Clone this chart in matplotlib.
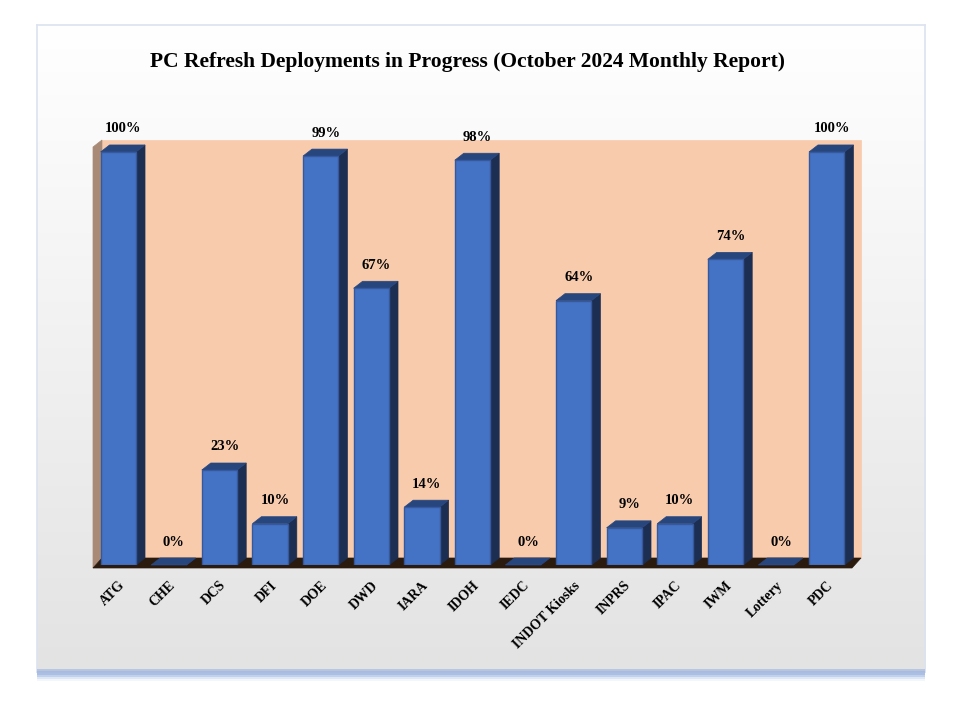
import matplotlib.pyplot as plt
import numpy as np
from matplotlib.patches import Polygon, Rectangle
from matplotlib.transforms import IdentityTransform

agencies = ['ATG', 'CHE', 'DCS', 'DFI', 'DOE', 'DWD', 'IARA', 'IDOH', 'IEDC',
            'INDOT Kiosks', 'INPRS', 'IPAC', 'IWM', 'Lottery', 'PDC']
progress = [100, 0, 23, 10, 99, 67, 14, 98, 0, 64, 9, 10, 74, 0, 100]
title = 'PC Refresh Deployments in Progress (October 2024 Monthly Report)'

plt.rcParams['font.family'] = ['Liberation Serif', 'DejaVu Serif']

W, H = 960, 720
fig = plt.figure(figsize=(9.6, 7.2), dpi=100)
fig.patch.set_facecolor('white')

# chart frame with soft gradient and blue shadow underneath
for i, a in enumerate([0.5, 0.35, 0.2, 0.1]):
    fig.patches.append(Rectangle((37 / W, (48 - 3 - 2 * i) / H), 888 / W, 6 / H,
                                 transform=fig.transFigure, color='#8FAADC',
                                 alpha=a, lw=0, zorder=0))
bg = fig.add_axes([37 / W, 48 / H, 888 / W, 647 / H], zorder=-1)
grad = np.linspace(1.0, 0.89, 256).reshape(-1, 1)
bg.imshow(np.dstack([grad, grad, grad]), aspect='auto', extent=(0, 1, 0, 1))
bg.set_xticks([])
bg.set_yticks([])
for s in bg.spines.values():
    s.set_color('#DCE3EF')
    s.set_linewidth(1.2)

fig.text(0.487, 1 - 62 / H, title, ha='center', va='center',
         fontsize=15.5, fontweight='bold')

# plot area (front plane)
ax = fig.add_axes([93 / W, (H - 565) / H, 759 / W, 418 / H])
ax.set_xlim(-0.5, len(agencies) - 0.5)
ax.set_ylim(0, 101.2)
ax.patch.set_alpha(0)
for s in ax.spines.values():
    s.set_visible(False)
ax.set_yticks([])

dx, dy = 9, 7
x = np.arange(len(agencies))
bw = 0.7

def disp(pts):
    return ax.transData.transform(pts)

def poly(pts, color, z):
    ax.add_patch(Polygon(pts, closed=True, transform=IdentityTransform(),
                         facecolor=color, edgecolor=color, lw=0.5, zorder=z,
                         clip_on=False))

x0, y0 = ax.transAxes.transform((0, 0))
x1, y1 = ax.transAxes.transform((1, 1))
off = np.array([dx, dy])
# back wall, left wall, floor
poly(np.array([[x0, y0], [x1, y0], [x1, y1], [x0, y1]]) + off, '#F8CBAD', 0)
poly([[x0, y0 - 3], [x0, y1], [x0 + dx, y1 + dy], [x0 + dx, y0 + dy]], '#A98A76', 1)
poly([[x0, y0 - 3], [x1, y0 - 3], [x1 + dx, y0 + dy], [x0 + dx, y0 + dy]], '#2B1B0E', 1)

ax.bar(x, progress, width=bw, color='#4472C4', edgecolor='#36599E',
       linewidth=1.0, zorder=4)
for xi, v in zip(x, progress):
    (l, b), (r, t) = disp([(xi - bw / 2, 0), (xi + bw / 2, v)])
    poly([[r, b], [r + dx, b + dy], [r + dx, t + dy], [r, t]], '#1C2E52', 3)
    poly([[l, t], [r, t], [r + dx, t + dy], [l + dx, t + dy]], '#28467E', 3)
    ax.annotate(f'{v}%', (xi, v), xytext=(5, 23), textcoords='offset pixels',
                ha='center', va='center', fontsize=10.5, fontweight='bold', zorder=6)

ax.set_xticks(x)
ax.set_xticklabels(agencies, rotation=45, ha='right', rotation_mode='anchor',
                   fontsize=10, fontweight='bold')
ax.tick_params(axis='x', length=0, pad=10)

fig.savefig('out.png', dpi=100)
